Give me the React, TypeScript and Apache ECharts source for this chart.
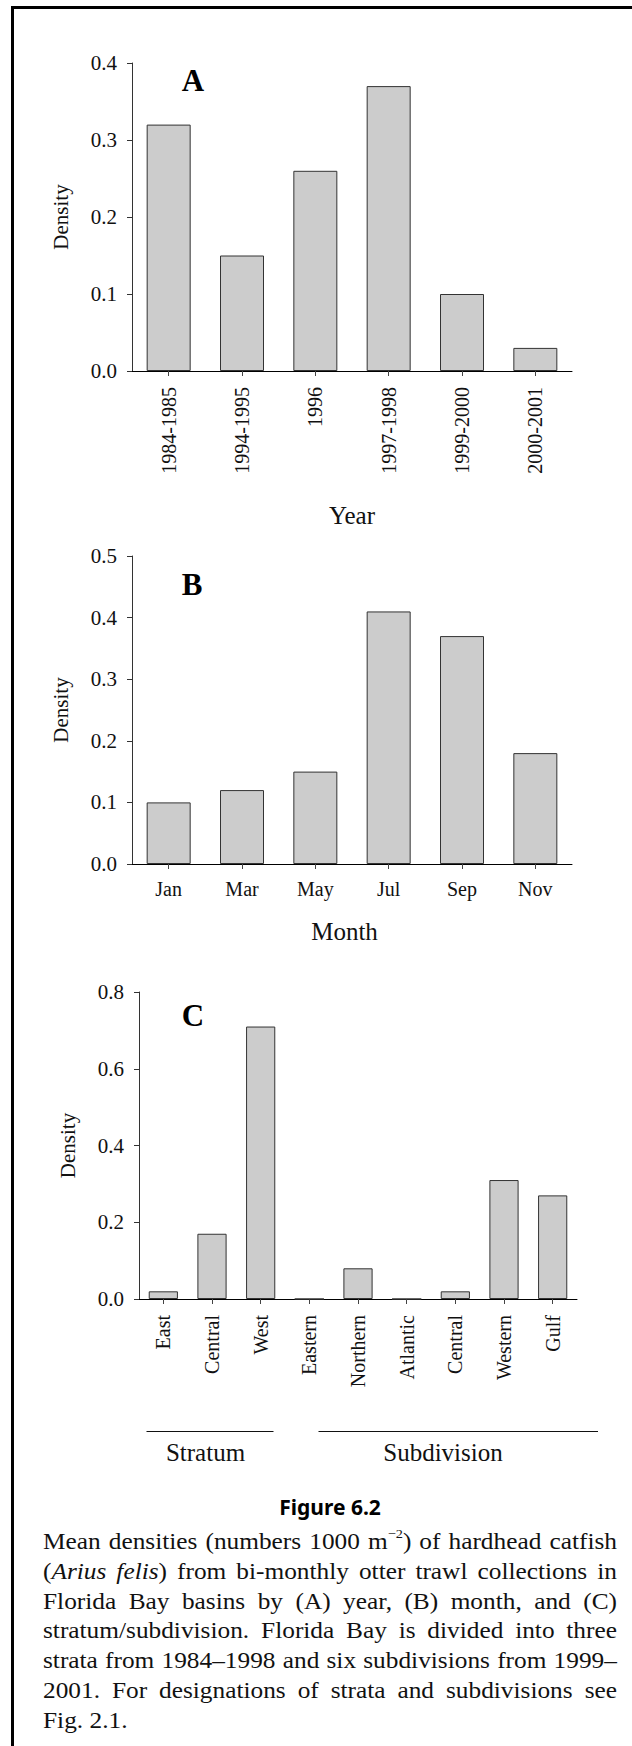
import React, { useEffect, useRef } from "react";
import * as echarts from "echarts";

// ---------------- data ----------------
const yearLabels = ["1984-1985", "1994-1995", "1996", "1997-1998", "1999-2000", "2000-2001"];
const yearDensity = [0.32, 0.15, 0.26, 0.37, 0.1, 0.03];

const monthLabels = ["Jan", "Mar", "May", "Jul", "Sep", "Nov"];
const monthDensity = [0.1, 0.12, 0.15, 0.41, 0.37, 0.18];

const areaLabels = ["East", "Central", "West", "Eastern", "Northern", "Atlantic", "Central", "Western", "Gulf"];
const areaDensity = [0.02, 0.17, 0.71, 0, 0.08, 0, 0.02, 0.31, 0.27];

const yTicksA = [0, 0.1, 0.2, 0.3, 0.4];
const yTicksB = [0, 0.1, 0.2, 0.3, 0.4, 0.5];
const yTicksC = [0, 0.2, 0.4, 0.6, 0.8];

const panelLetters = ["A", "B", "C"];
const xTitles = ["Year", "Month", ""];
const groupLabels = ["Stratum", "Subdivision"];

const figureTitle = "Figure 6.2";
const captionLines = [
  "Mean densities (numbers 1000 m^\u22122^) of hardhead catfish",
  "(*Arius felis*) from bi-monthly otter trawl collections in",
  "Florida Bay basins by (A) year, (B) month, and (C)",
  "stratum/subdivision. Florida Bay is divided into three",
  "strata from 1984\u20131998 and six subdivisions from 1999\u2013",
  "2001. For designations of strata and subdivisions see",
  "Fig. 2.1.",
];

// ---------------- styles ----------------
const W = 632;
const H = 1746;
const SERIF = "Liberation Serif, Times New Roman, serif";
const CAP_FAMILY = "Liberation Serif";
const INK = "#111";

type Seg = { t: string; it: boolean; sup: boolean };

function parseLine(line: string): Seg[][] {
  const words: Seg[][] = [];
  let cur: Seg[] = [];
  let buf = "";
  let it = false;
  let sup = false;
  const flush = () => {
    if (buf) {
      cur.push({ t: buf, it, sup });
      buf = "";
    }
  };
  for (const ch of line) {
    if (ch === "*") {
      flush();
      it = !it;
    } else if (ch === "^") {
      flush();
      sup = !sup;
    } else if (ch === " ") {
      flush();
      if (cur.length) words.push(cur);
      cur = [];
    } else buf += ch;
  }
  flush();
  if (cur.length) words.push(cur);
  return words;
}

function captionGraphics(): any[] {
  const CAP = 23;
  const SUP = 13;
  const LEFT = 43;
  const RIGHT = 617;
  const TOP = 1541;
  const STEP = 29.8;
  const canvas = document.createElement("canvas");
  const ctx = canvas.getContext("2d")!;
  const fontOf = (s: Seg) => `${s.it ? "italic " : ""}${s.sup ? SUP : CAP}px "${CAP_FAMILY}"`;
  const measure = (s: Seg) => {
    ctx.font = fontOf(s);
    return ctx.measureText(s.t).width;
  };
  ctx.font = `${CAP}px "${CAP_FAMILY}"`;
  const space = ctx.measureText(" ").width;
  const parsed = captionLines.map(parseLine);
  const wordW = (w: Seg[]) => w.reduce((a, s) => a + measure(s), 0);
  const natural = (ws: Seg[][]) => ws.reduce((a, w) => a + wordW(w), 0) + space * (ws.length - 1);
  let maxNat = 0;
  parsed.forEach((ws, i) => {
    if (i < parsed.length - 1) maxNat = Math.max(maxNat, natural(ws));
  });
  const sx = ((RIGHT - LEFT) * 0.99) / maxNat;
  const out: any[] = [];
  parsed.forEach((words, li) => {
    const y = TOP + li * STEP;
    const widths = words.map(wordW);
    const total = widths.reduce((a, b) => a + b, 0);
    const justify = li < parsed.length - 1 && words.length > 1;
    const gap = justify ? (RIGHT - LEFT - total * sx) / (words.length - 1) : space * sx;
    let x = LEFT;
    words.forEach((w, wi) => {
      let px = x;
      w.forEach((seg) => {
        out.push({
          type: "text",
          x: px,
          y: seg.sup ? y - 7 : y,
          scaleX: sx,
          silent: true,
          style: {
            text: seg.t,
            fontSize: seg.sup ? SUP : CAP,
            fontFamily: SERIF,
            fontStyle: seg.it ? "italic" : "normal",
            fill: INK,
            align: "left",
            verticalAlign: "middle",
            textAlign: "left",
            textVerticalAlign: "middle",
          },
        });
        px += measure(seg) * sx;
      });
      x += widths[wi] * sx + gap;
    });
  });
  return out;
}

function valAxis(gridIndex: number, ticks: number[]) {
  return {
    type: "value",
    gridIndex,
    min: ticks[0],
    max: ticks[ticks.length - 1],
    interval: ticks[1] - ticks[0],
    axisLine: { show: true, lineStyle: { color: "#333", width: 1 } },
    axisTick: { show: true, length: 5, lineStyle: { color: "#333", width: 1 } },
    axisLabel: {
      margin: 15,
      fontFamily: SERIF,
      fontSize: 21,
      color: INK,
      formatter: (v: number) => v.toFixed(1),
    },
    splitLine: { show: false },
    name: "Density",
    nameLocation: "middle",
    nameGap: 61,
    nameRotate: 90,
    nameTextStyle: { fontFamily: SERIF, fontSize: 21, color: INK },
  };
}

function catAxis(gridIndex: number, data: string[], rotate: number, margin: number, nameGap: number, padding: number[]) {
  return {
    type: "category",
    gridIndex,
    data,
    axisLine: { show: true, onZero: false, lineStyle: { color: "#000", width: 1 } },
    axisTick: { show: true, alignWithLabel: true, length: 5, lineStyle: { color: "#444", width: 1 } },
    axisLabel: { interval: 0, rotate, margin, fontFamily: SERIF, fontSize: 20, color: INK },
    splitLine: { show: false },
    name: xTitles[gridIndex],
    nameLocation: "middle",
    nameGap,
    nameTextStyle: { fontFamily: SERIF, fontSize: 25, color: INK, padding },
  };
}

function buildOption() {
  const values = [yearDensity, monthDensity, areaDensity];
  const letterPos = [
    [193, 80],
    [192, 584],
    [193, 1015],
  ];
  const graphic: any[] = [
    // frame
    { type: "line", silent: true, shape: { x1: 12.5, y1: 6, x2: 12.5, y2: H }, style: { stroke: "#000", lineWidth: 3 } },
    { type: "line", silent: true, shape: { x1: 11, y1: 7.5, x2: W, y2: 7.5 }, style: { stroke: "#000", lineWidth: 3 } },
    // panel letters
    ...panelLetters.map((t, i) => ({
      type: "text",
      x: letterPos[i][0],
      y: letterPos[i][1],
      silent: true,
      style: {
        text: t,
        fontFamily: SERIF,
        fontWeight: "bold",
        fontSize: 31,
        fill: "#000",
        align: "center",
        verticalAlign: "middle",
        textAlign: "center",
        textVerticalAlign: "middle",
      },
    })),
    // group brackets under panel C
    { type: "line", silent: true, shape: { x1: 146.5, y1: 1431.5, x2: 273.5, y2: 1431.5 }, style: { stroke: INK, lineWidth: 1 } },
    { type: "line", silent: true, shape: { x1: 318.5, y1: 1431.5, x2: 598, y2: 1431.5 }, style: { stroke: INK, lineWidth: 1 } },
    ...groupLabels.map((t, i) => ({
      type: "text",
      x: [205.5, 443][i],
      y: 1452,
      silent: true,
      style: {
        text: t,
        fontFamily: SERIF,
        fontSize: 25,
        fill: INK,
        align: "center",
        verticalAlign: "middle",
        textAlign: "center",
        textVerticalAlign: "middle",
      },
    })),
    // figure title
    {
      type: "text",
      x: 330,
      y: 1506.5,
      silent: true,
      style: {
        text: figureTitle,
        fontFamily: "Noto Sans, Open Sans, sans-serif",
        fontWeight: "bold",
        fontSize: 21,
        fill: "#000",
        align: "center",
        verticalAlign: "middle",
        textAlign: "center",
        textVerticalAlign: "middle",
      },
    },
    ...captionGraphics(),
  ];

  return {
    animation: false,
    backgroundColor: "#ffffff",
    textStyle: { fontFamily: SERIF },
    grid: [
      { left: 132, top: 63, width: 440, height: 308 },
      { left: 132, top: 556, width: 440, height: 308 },
      { left: 139, top: 992, width: 438, height: 307 },
    ],
    xAxis: [
      catAxis(0, yearLabels, 90, 16, 132, [0, 0, 0, 0]),
      catAxis(1, monthLabels, 0, 15, 55, [0, 15, 0, 0]),
      catAxis(2, areaLabels, 90, 16, 0, [0, 0, 0, 0]),
    ],
    yAxis: [valAxis(0, yTicksA), valAxis(1, yTicksB), valAxis(2, yTicksC)],
    series: values.map((d, i) => ({
      type: "bar",
      xAxisIndex: i,
      yAxisIndex: i,
      data: d,
      barWidth: "60%",
      silent: true,
      itemStyle: { color: "#cccccc", borderColor: "#333", borderWidth: 1 },
    })),
    graphic,
  };
}

export default function App() {
  const ref = useRef<HTMLDivElement>(null);
  useEffect(() => {
    const el = ref.current!;
    const chart = echarts.init(el, null, { renderer: "svg", width: W, height: H });
    chart.setOption(buildOption() as any);
    return () => chart.dispose();
  }, []);
  return (
    <div
      ref={ref}
      style={{ position: "absolute", left: 0, top: 0, width: W, height: H, background: "#fff" }}
    />
  );
}
